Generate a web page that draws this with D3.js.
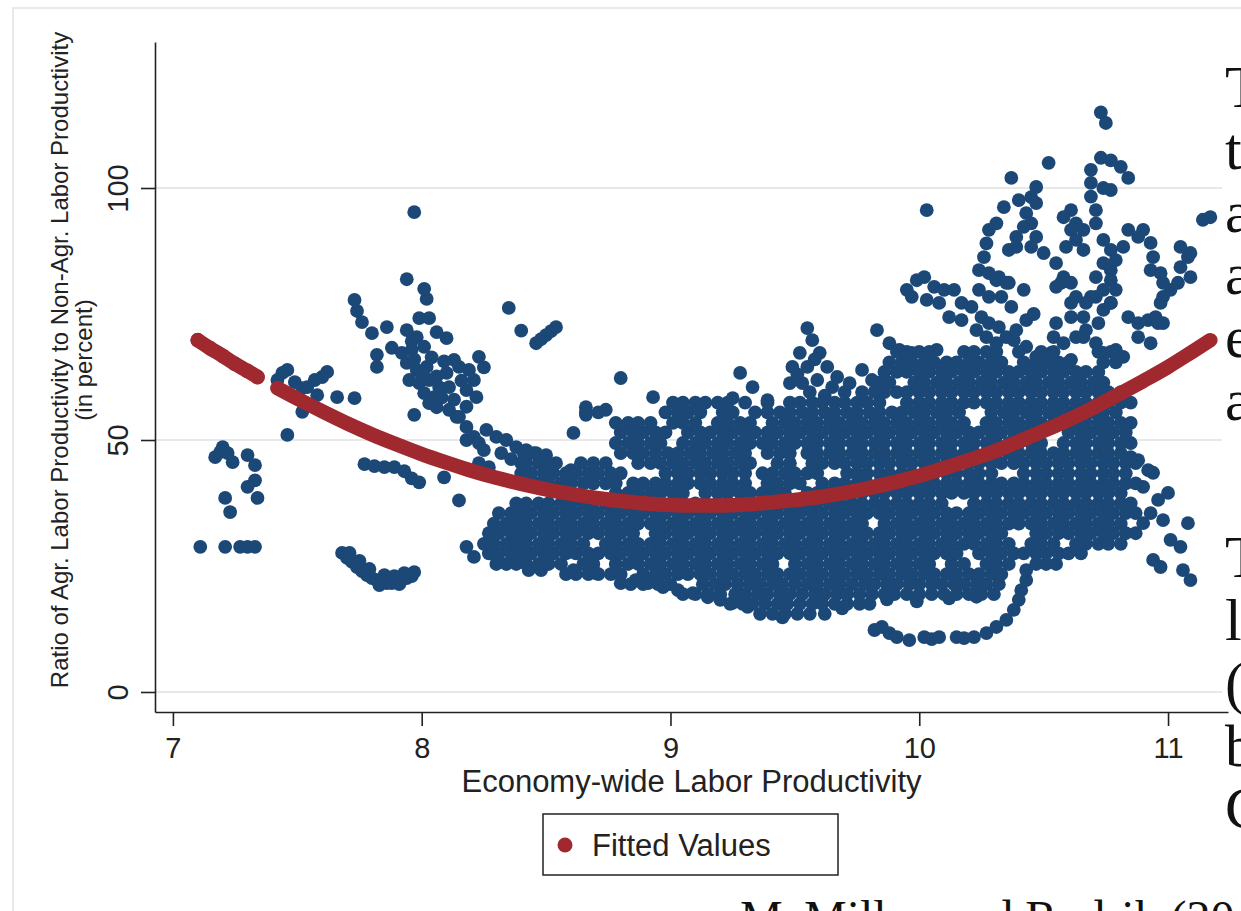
<!DOCTYPE html>
<html>
<head>
<meta charset="utf-8">
<script src="https://cdn.jsdelivr.net/npm/d3@7"></script>
<style>
  html, body { margin: 0; padding: 0; background: #fff; overflow: hidden; }
  svg { display: block; }
</style>
</head>
<body>
<svg id="chart" width="1241" height="911"></svg>
<script>
// ---- Axis labels and ticks ----
const xTicks = [7, 8, 9, 10, 11];
const yTicks = [0, 50, 100];
const xTitle = "Economy-wide Labor Productivity";
const yTitleLines = ["Ratio of Agr. Labor Productivity to Non-Agr. Labor Productivity", "(in percent)"];
const legendLabel = "Fitted Values";
const sideLetters = ["T", "t", "a", "a", "e", "a", "T", "l", "(", "b", "C"];
const sourceNote = "McMillan and Rodrik (20";

// ---- Observations: [labor productivity, ratio] ----
const earlyCluster = [
  [7.11,28.8],[7.21,28.8],[7.27,28.8],[7.30,28.8],[7.33,28.8],
  [7.17,46.6],[7.20,48.6],[7.22,47.4],[7.24,45.6],[7.19,47.6],
  [7.30,47.0],[7.33,45.0],[7.33,42.0],[7.30,40.7],[7.34,38.5],
  [7.21,38.5],[7.23,35.7]
];
const nearFitStart = [
  [7.44,63.3],[7.46,63.9],[7.42,61.9],[7.49,61.5],[7.52,60.3],[7.54,60.5],[7.57,61.9],
  [7.60,62.5],[7.62,63.5],[7.58,58.9],[7.52,55.6],[7.66,58.5],[7.73,58.3],[7.46,51.0]
];
const lowDip = [
  [7.68,27.6],[7.70,26.6],[7.72,25.8],[7.74,24.8],[7.76,24.0],[7.78,23.2],[7.80,22.6],[7.82,22.2],
  [7.84,21.8],[7.86,21.6],[7.88,21.6],[7.90,21.8],[7.92,22.2],[7.94,22.6],[7.96,23.0],[7.97,23.8],
  [7.93,23.6],[7.89,23.0],[7.85,23.2],[7.79,24.4],[7.75,26.0],[7.71,27.6],[7.83,21.2],[7.91,21.4]
];
const belowFitLeft = [
  [7.77,45.2],[7.81,44.8],[7.85,44.6],[7.89,44.6],[7.93,43.8],[7.96,42.4],[7.99,41.6],
  [8.09,42.6],[8.15,38.0],[8.18,28.8],[8.21,26.8]
];
const clusterNear8 = [
  [7.97,95.2],[7.94,81.9],[8.01,80.0],[8.02,78.0],
  [7.73,77.8],[7.74,75.6],[7.76,73.4],[7.80,71.2],[7.86,72.4],[7.82,66.9],[7.82,64.5],
  [7.94,71.8],[7.99,74.2],[8.03,74.2],[8.06,71.4],[8.10,70.2],[7.98,70.4],
  [7.88,68.3],[7.92,67.3],[7.96,67.9],[8.01,68.5],[7.94,65.3],[7.98,63.9],[8.02,64.5],
  [7.95,61.9],[7.99,61.3],[8.03,61.9],[8.01,59.3],[8.05,58.5],[8.07,60.5],[8.10,63.3],
  [8.13,65.9],[8.15,64.5],[8.19,63.9],[8.23,66.5],[8.21,61.9],[8.18,59.9],[8.22,58.5],
  [8.11,60.5],[8.06,56.5],[8.03,57.3],[8.11,56.0],[8.15,54.6],[7.97,55.0],
  [7.96,69.6],[8.04,66.4],[7.97,66.0],[8.00,63.0],[8.06,62.6],[8.08,58.4],[8.13,58.0],
  [8.16,61.8],[8.09,65.6],[8.25,64.4],[8.18,56.6],
  [8.14,54.6],[8.18,52.6],[8.21,50.6],[8.23,49.4],[8.26,52.0],[8.30,50.6],[8.34,50.0],
  [8.38,48.6],[8.42,48.0],[8.46,47.4],[8.50,47.0],[8.54,45.4],[8.60,44.0],[8.18,50.0],
  [8.25,48.0],[8.23,45.4],[8.27,44.6],[8.32,47.4],[8.36,46.2],[8.40,45.4]
];
const midUpper = [
  [8.35,76.2],[8.40,71.7],[8.46,69.2],[8.48,70.0],[8.50,70.8],[8.52,71.6],[8.54,72.4],
  [8.80,62.3],[8.93,58.5],[8.66,56.5],[8.66,55.0],[8.74,56.0],[8.61,51.4],
  [9.28,63.3],[9.33,60.5],[9.39,57.9],[9.25,58.3]
];
const cluster95 = [
  [9.55,72.2],[9.57,69.8],[9.52,67.3],[9.60,67.3],[9.49,64.5],[9.55,64.5],[9.63,64.5],[9.67,62.5],
  [9.48,61.3],[9.53,61.3],[9.59,61.9],[9.72,61.3],[9.77,63.9],[9.81,61.9],[9.51,63.0],[9.58,66.0],
  [9.65,60.5],[9.70,59.5],[9.62,58.8],[9.56,59.5]
];
const upperRight = [
  [10.73,115.0],[10.75,112.9],
  [10.73,106.0],[10.77,105.5],[10.81,104.2],[10.84,102.0],
  [10.69,103.6],[10.69,101.0],[10.69,98.3],[10.71,95.6],[10.71,93.0],[10.74,100.0],[10.77,99.6],
  [10.52,105.0],[10.37,102.0],[10.03,95.6],
  [10.47,100.2],[10.45,98.2],[10.40,97.6],[10.43,95.0],[10.42,92.3],[10.39,90.3],[10.34,96.2],
  [10.31,93.0],[10.28,91.7],[10.27,89.0],[10.26,86.3],[10.47,97.0],
  [10.45,93.0],[10.47,90.3],[10.50,87.1],[10.45,88.3],[10.36,87.7],[10.39,88.3],
  [10.61,95.6],[10.63,93.0],[10.66,91.7],[10.61,91.7],[10.58,94.2],[10.63,89.7],[10.66,87.7],
  [10.59,88.3],[10.55,85.1],[10.58,82.3],[10.61,81.2],[10.55,80.4],
  [10.74,89.7],[10.77,87.7],[10.74,85.1],[10.77,83.7],[10.79,85.7],[10.71,82.3],[10.77,81.7],
  [10.74,79.8],[10.79,79.8],[10.71,78.4],[10.77,77.2],[10.69,78.4],[10.82,88.3],[10.84,91.7],
  [10.88,90.3],[10.90,91.7],
  [10.93,89.1],[10.94,86.3],[10.93,83.7],[10.97,83.1],[10.98,81.2],[11.01,79.8],[10.98,78.4],
  [11.05,84.3],[11.08,86.3],[11.09,82.3],[11.04,81.2],[10.97,77.2],[10.95,74.4],[10.98,73.2],
  [11.14,93.7],[11.17,94.2],[11.05,88.3],[11.09,87.1],
  [9.95,79.8],[9.99,81.7],[10.02,82.3],[10.06,80.4],[9.97,78.4],[10.03,77.8],[10.08,77.2],[10.10,79.8],
  [10.14,79.8],[10.17,77.2],[10.21,76.4],[10.25,74.4],[10.28,73.2],[10.32,72.4],[10.12,74.4],
  [10.17,73.8],[10.23,71.8],[10.27,70.4],[10.31,69.2],[10.35,70.4],[10.39,71.8],[10.43,73.8],
  [10.46,75.0],[10.37,76.4],[10.33,78.4],[10.28,78.4],[10.24,79.8],[10.31,81.7],[10.36,81.2],
  [10.42,79.8],[10.24,83.7],[10.28,83.1],[10.32,82.3],[10.35,81.2],
  [10.57,81.2],[10.61,77.2],[10.63,78.4],[10.67,77.2],[10.66,74.4],[10.61,74.4],[10.55,73.2],
  [10.54,70.4],[10.58,69.2],[10.63,70.4],[10.67,71.8],[10.72,73.2],[10.74,75.8],[10.77,77.2],
  [10.84,74.4],[10.88,73.2],[10.92,73.8],[10.96,73.2],[10.88,70.4],[10.93,69.2],
  [9.83,71.8],[9.88,69.2],[9.92,67.9],[9.97,67.3],[10.03,66.5],[10.07,67.9],
  [10.38,69.8],[10.43,68.5],[10.47,66.5],[10.53,67.3],[10.55,65.3],[10.61,65.9],
  [10.66,70.4],[10.71,69.2],[10.74,67.3],[10.79,67.9],[10.82,66.5]
];
const rightTail = [
  [10.90,40.7],[10.94,43.5],[10.96,38.1],[11.00,39.5],[10.98,34.1],[10.90,33.5],[10.93,35.5],
  [11.08,33.5],[11.01,30.2],[11.05,28.8],[10.94,26.2],[10.97,24.8],[11.06,24.2],[11.09,22.2],
  [10.85,46.6],[10.88,46.0],[10.92,44.0]
];
const bottomLoop = [
  [9.82,12.3],[9.85,12.9],[9.88,11.7],[9.91,10.9],[9.96,10.3],[10.02,10.9],[10.05,10.5],[10.08,10.9],
  [10.15,10.9],[10.18,10.7],[10.22,10.9],[10.27,11.7],[10.31,12.9],[10.35,14.3],[10.38,16.3],
  [10.40,18.3],[10.41,20.2],[10.43,22.2],[10.43,24.2]
];
const bottomChain = [
  [8.61,24.2],[8.70,23.6],[8.80,21.6],[8.86,22.2],[8.91,21.6],[8.97,20.8],[9.03,20.2],[9.09,19.6],
  [9.15,18.8],[9.20,18.3],[9.25,17.7],[9.31,16.9],
  [9.87,18.4],[9.99,18.0],[10.12,18.6],[10.23,18.9],[9.69,16.6],[9.45,14.8]
];
// Dense body of the cloud, one row per ratio level: [ratio, [productivity values]]
const denseRows = [
  [15.5, [9.36,9.41,9.46,9.51,9.56,9.62]],
  [17.5, [9.24,9.29,9.33,9.38,9.43,9.47,9.52,9.57,9.61,9.66,9.71,9.76,9.80]],
  [19.4, [9.05,9.10,9.15,9.20,9.26,9.30,9.35,9.39,9.44,9.48,9.53,9.58,9.62,9.67,9.71,9.76,9.81,9.86,9.90,9.95,10.00,10.05,10.10,10.15,10.20,10.25,10.30]],
  [21.4, [8.84,8.89,8.95,9.00,9.13,9.18,9.22,9.27,9.32,9.36,9.41,9.45,9.50,9.55,9.59,9.64,9.68,9.73,9.78,9.82,9.87,9.91,9.96,10.00,10.05,10.09,10.14,10.18,10.23,10.27,10.32]],
  [23.4, [8.58,8.62,8.67,8.71,8.76,8.80,8.89,8.94,8.98,9.03,9.07,9.12,9.16,9.21,9.25,9.30,9.34,9.39,9.43,9.48,9.52,9.57,9.61,9.66,9.70,9.75,9.79,9.84,9.88,9.93,9.97,10.02,10.06,10.11,10.15,10.20,10.24,10.29,10.33]],
  [24.2, [8.43,8.48]],
  [25.4, [8.30,8.34,8.38,8.42,8.47,8.51,8.56,8.65,8.69,8.78,8.83,8.87,8.92,8.96,9.01,9.05,9.10,9.14,9.19,9.23,9.28,9.32,9.37,9.41,9.50,9.55,9.59,9.64,9.68,9.73,9.77,9.82,9.86,9.91,9.95,10.00,10.04,10.13,10.18,10.27,10.31,10.36,10.47,10.51,10.55]],
  [27.5, [8.27,8.31,8.36,8.40,8.44,8.49,8.53,8.58,8.62,8.67,8.71,8.76,8.80,8.85,8.89,8.94,8.98,9.03,9.07,9.12,9.16,9.21,9.25,9.30,9.34,9.39,9.43,9.48,9.52,9.57,9.61,9.66,9.70,9.75,9.79,9.84,9.88,9.93,9.97,10.02,10.06,10.11,10.15,10.24,10.29,10.33,10.38,10.42,10.47,10.51,10.56,10.60,10.65]],
  [29.4, [8.25,8.29,8.34,8.38,8.42,8.47,8.51,8.56,8.60,8.65,8.74,8.78,8.83,8.87,8.92,8.96,9.01,9.05,9.10,9.14,9.19,9.23,9.28,9.32,9.37,9.41,9.46,9.50,9.55,9.59,9.64,9.68,9.73,9.77,9.82,9.86,9.91,9.95,10.00,10.04,10.09,10.13,10.18,10.22,10.27,10.31,10.36,10.45,10.49,10.54,10.63,10.67,10.72,10.76,10.81]],
  [31.5, [8.27,8.31,8.36,8.40,8.44,8.49,8.53,8.58,8.62,8.67,8.71,8.76,8.80,8.85,8.94,8.98,9.03,9.07,9.12,9.16,9.21,9.25,9.30,9.34,9.39,9.43,9.48,9.52,9.57,9.61,9.66,9.70,9.75,9.79,9.84,9.88,9.93,9.97,10.02,10.06,10.11,10.15,10.20,10.24,10.29,10.33,10.47,10.51,10.56,10.60,10.65,10.69,10.74,10.78,10.83,10.87]],
  [33.4, [8.29,8.34,8.38,8.42,8.47,8.51,8.56,8.60,8.65,8.69,8.74,8.78,8.83,8.87,8.92,8.96,9.01,9.05,9.10,9.14,9.19,9.23,9.28,9.32,9.37,9.41,9.46,9.50,9.55,9.59,9.64,9.68,9.73,9.77,9.86,9.91,9.95,10.00,10.04,10.09,10.13,10.18,10.22,10.27,10.31,10.36,10.40,10.45,10.49,10.54,10.58,10.63,10.67,10.72,10.76,10.81]],
  [35.5, [8.31,8.36,8.40,8.44,8.49,8.53,8.58,8.62,8.67,8.71,8.76,8.80,8.85,8.89,8.94,8.98,9.03,9.07,9.12,9.16,9.21,9.25,9.30,9.34,9.39,9.43,9.48,9.52,9.57,9.61,9.66,9.70,9.75,9.79,9.84,9.88,9.93,9.97,10.02,10.06,10.11,10.15,10.20,10.24,10.29,10.33,10.38,10.42,10.47,10.51,10.56,10.60,10.65,10.69,10.74,10.78,10.83,10.87]],
  [37.4, [8.38,8.42,8.47,8.51,8.56,8.60,8.65,8.69,8.74,8.78,8.83,8.87,8.92,8.96,9.01,9.05,9.10,9.14,9.19,9.23,9.28,9.32,9.37,9.41,9.46,9.50,9.55,9.59,9.64,9.68,9.73,9.77,9.82,9.86,9.91,9.95,10.00,10.04,10.09,10.22,10.27,10.31,10.36,10.40,10.45,10.49,10.54,10.58,10.63,10.67,10.72,10.76,10.81,10.85]],
  [39.5, [8.78,8.83,8.87,8.92,8.96,9.01,9.05,9.14,9.19,9.23,9.28,9.32,9.37,9.41,9.46,9.55,9.59,9.64,9.68,9.73,9.77,9.82,9.86,9.91,9.95,10.00,10.04,10.09,10.13,10.18,10.22,10.27,10.31,10.36,10.40,10.45,10.49,10.54,10.58,10.63,10.67,10.72,10.76,10.81]],
  [41.4, [8.42,8.47,8.51,8.56,8.60,8.65,8.69,8.74,8.78,8.85,8.89,8.94,8.98,9.03,9.07,9.12,9.16,9.21,9.25,9.30,9.39,9.43,9.48,9.52,9.61,9.66,9.70,9.75,9.79,9.84,9.88,9.93,9.97,10.02,10.06,10.11,10.15,10.20,10.24,10.29,10.33,10.38,10.42,10.47,10.51,10.56,10.60,10.65,10.69,10.74,10.78,10.83,10.87]],
  [43.4, [8.40,8.44,8.49,8.53,8.58,8.62,8.67,8.71,8.76,8.80,8.98,9.03,9.07,9.12,9.16,9.21,9.25,9.30,9.37,9.41,9.46,9.50,9.55,9.59,9.71,9.75,9.79,9.84,9.88,9.93,9.97,10.02,10.06,10.11,10.15,10.20,10.24,10.29,10.42,10.47,10.51,10.56,10.60,10.65,10.69,10.74,10.78,10.83]],
  [45.4, [8.42,8.47,8.51,8.64,8.69,8.74,8.87,8.92,8.96,9.01,9.05,9.10,9.14,9.19,9.23,9.28,9.32,9.43,9.48,9.57,9.61,9.66,9.70,9.75,9.79,9.84,9.88,9.93,9.97,10.02,10.06,10.11,10.15,10.20,10.24,10.29,10.33,10.38,10.42,10.47,10.51,10.56,10.60,10.65,10.69,10.74,10.78,10.83,10.87]],
  [47.4, [8.41,8.45,8.80,8.85,8.89,8.94,8.99,9.03,9.08,9.12,9.17,9.21,9.26,9.30,9.39,9.44,9.48,9.55,9.59,9.64,9.68,9.73,9.77,9.82,9.86,9.91,9.95,10.00,10.04,10.09,10.13,10.18,10.22,10.27,10.31,10.36,10.40,10.45,10.49,10.54,10.58,10.63,10.67,10.72,10.76,10.81]],
  [49.4, [8.78,8.83,8.87,8.92,8.96,9.05,9.10,9.14,9.19,9.23,9.28,9.32,9.37,9.41,9.46,9.50,9.55,9.59,9.64,9.68,9.73,9.77,9.82,9.86,9.91,9.95,10.00,10.04,10.09,10.13,10.18,10.22,10.27,10.31,10.36,10.40,10.45,10.49,10.58,10.63,10.67,10.72,10.76,10.81,10.85]],
  [51.5, [8.80,8.85,8.89,8.94,8.98,9.07,9.12,9.16,9.21,9.25,9.30,9.34,9.39,9.43,9.48,9.52,9.57,9.61,9.66,9.70,9.75,9.79,9.84,9.88,9.93,9.97,10.02,10.06,10.11,10.15,10.20,10.24,10.29,10.33,10.38,10.42,10.47,10.60,10.65,10.69,10.74,10.78,10.83]],
  [53.4, [8.78,8.83,8.87,8.92,9.01,9.05,9.10,9.19,9.23,9.28,9.32,9.41,9.46,9.50,9.55,9.59,9.64,9.68,9.73,9.77,9.82,9.86,9.91,9.95,10.00,10.04,10.09,10.13,10.18,10.27,10.31,10.36,10.40,10.45,10.49,10.54,10.63,10.67,10.72,10.76,10.81,10.85]],
  [55.5, [8.66,8.71,8.98,9.03,9.07,9.12,9.21,9.25,9.34,9.39,9.44,9.48,9.53,9.57,9.62,9.66,9.71,9.75,9.80,9.84,9.89,9.93,9.98,10.02,10.07,10.11,10.16,10.29,10.34,10.38,10.43,10.47,10.52,10.56,10.61,10.65,10.70,10.74,10.79]],
  [57.4, [9.01,9.05,9.10,9.14,9.19,9.23,9.30,9.39,9.48,9.52,9.57,9.61,9.66,9.70,9.75,9.79,9.84,9.95,10.00,10.04,10.09,10.13,10.18,10.22,10.27,10.31,10.36,10.40,10.45,10.49,10.54,10.58,10.63,10.67,10.72,10.76,10.81,10.85]],
  [59.5, [9.77,9.82,9.86,9.91,9.95,10.00,10.04,10.09,10.13,10.18,10.22,10.27,10.31,10.36,10.40,10.45,10.49,10.54,10.58,10.63,10.67,10.72,10.76,10.81]],
  [61.4, [9.84,9.88,9.98,10.02,10.07,10.11,10.16,10.20,10.25,10.29,10.34,10.38,10.43,10.47,10.52,10.56,10.61,10.65,10.70,10.74]],
  [63.5, [9.86,9.91,9.95,10.00,10.04,10.09,10.13,10.18,10.22,10.27,10.31,10.36,10.40,10.45,10.49,10.54,10.58,10.63,10.67,10.72]],
  [65.4, [9.88,9.93,9.97,10.02,10.06,10.11,10.15,10.20,10.24,10.29,10.33,10.42,10.47,10.51,10.56,10.60,10.74,10.79]],
  [67.5, [9.91,9.95,10.00,10.04,10.18,10.22,10.27,10.31,10.40,10.49,10.54,10.72,10.77]]
];

// ---- Fitted values (quadratic fit), two runs with a gap in the data ----
const fittedLow = [[7.10,69.8],[7.15,68.2],[7.20,66.7],[7.25,65.1],[7.30,63.7],[7.34,62.5]];
const fittedMain = [
  [7.42,60.3],[7.50,58.2],[7.60,55.7],[7.70,53.3],[7.80,51.1],[7.90,49.1],[8.00,47.2],[8.10,45.5],
  [8.20,43.9],[8.30,42.5],[8.40,41.3],[8.50,40.2],[8.60,39.3],[8.70,38.5],[8.80,37.9],[8.90,37.4],
  [9.00,37.1],[9.10,37.0],[9.20,37.0],[9.30,37.2],[9.40,37.6],[9.50,38.1],[9.60,38.7],[9.70,39.5],
  [9.80,40.5],[9.90,41.6],[10.00,42.9],[10.10,44.4],[10.20,46.0],[10.30,47.7],[10.40,49.7],
  [10.50,51.8],[10.60,54.0],[10.70,56.4],[10.80,59.0],[10.90,61.7],[11.00,64.5],[11.10,67.6],[11.17,69.8]
];

// ---- Drawing ----
const SANS = "'Liberation Sans', Arial, Helvetica, sans-serif";
const SERIF = "'Liberation Serif', 'Times New Roman', Times, serif";
const BLUE = "#1b4876";
const RED = "#a0292f";
const INK = "#222";
const DOT_R = 6.9;

const svg = d3.select("#chart");
const x = d3.scaleLinear().domain([6.928, 11.241]).range([155, 1228]);
const y = d3.scaleLinear().domain([-3.97, 128.97]).range([712, 42]);

// outer graph region frame
svg.append("rect")
  .attr("x", 13).attr("y", 8).attr("width", 1400).attr("height", 1000)
  .attr("fill", "none").attr("stroke", "#e9e9e9").attr("stroke-width", 2);

// horizontal grid lines
svg.append("g").selectAll("line").data(yTicks).join("line")
  .attr("x1", x.range()[0] + 1).attr("x2", x.range()[1] - 6)
  .attr("y1", d => y(d)).attr("y2", d => y(d))
  .attr("stroke", "#e8e8e8").attr("stroke-width", 2);

// scatter points
const scatter = [].concat(
  earlyCluster, nearFitStart, lowDip, belowFitLeft, clusterNear8, midUpper,
  cluster95, upperRight, rightTail, bottomLoop, bottomChain,
  denseRows.flatMap(([ratio, xs]) => xs.map(v => [v, ratio]))
);
svg.append("g").selectAll("circle").data(scatter).join("circle")
  .attr("cx", d => x(d[0])).attr("cy", d => y(d[1])).attr("r", DOT_R)
  .attr("fill", BLUE);

// fitted values
const fitLine = d3.line().x(d => x(d[0])).y(d => y(d[1])).curve(d3.curveMonotoneX);
const gFit = svg.append("g");
[fittedLow, fittedMain].forEach(run => {
  gFit.append("path").attr("d", fitLine(run))
    .attr("fill", "none").attr("stroke", RED).attr("stroke-width", 14.5)
    .attr("stroke-linecap", "round").attr("stroke-linejoin", "round");
});
gFit.selectAll("circle").data(fittedLow).join("circle")
  .attr("cx", d => x(d[0])).attr("cy", d => y(d[1])).attr("r", 7.4).attr("fill", RED);

// y axis
const gy = svg.append("g").attr("transform", "translate(155,0)")
  .call(d3.axisLeft(y).tickValues(yTicks).tickSize(14).tickSizeOuter(0).tickFormat(d3.format("d")));
gy.select(".domain").attr("stroke", INK).attr("stroke-width", 1.6);
gy.selectAll(".tick line").attr("stroke", INK).attr("stroke-width", 1.6);
gy.selectAll(".tick text")
  .attr("x", null).attr("dy", null)
  .attr("transform", "translate(-27,0) rotate(-90)")
  .attr("text-anchor", "middle")
  .attr("font-family", SANS).attr("font-size", 29).attr("fill", INK);

// x axis
const gx = svg.append("g").attr("transform", "translate(0,712)")
  .call(d3.axisBottom(x).tickValues(xTicks).tickSize(14).tickSizeOuter(0).tickFormat(d3.format("d")));
gx.select(".domain").attr("stroke", INK).attr("stroke-width", 1.6);
gx.selectAll(".tick line").attr("stroke", INK).attr("stroke-width", 1.6);
gx.selectAll(".tick text")
  .attr("y", 46).attr("dy", null)
  .attr("font-family", SANS).attr("font-size", 29).attr("fill", INK);

// axis titles
svg.append("text")
  .attr("x", (x.range()[0] + x.range()[1]) / 2).attr("y", 792)
  .attr("text-anchor", "middle")
  .attr("font-family", SANS).attr("font-size", 31).attr("fill", INK)
  .text(xTitle);

yTitleLines.forEach((line, i) => {
  svg.append("text")
    .attr("transform", `translate(${68 + i * 24},360) rotate(-90)`)
    .attr("text-anchor", "middle")
    .attr("font-family", SANS).attr("font-size", 24).attr("fill", INK)
    .text(line);
});

// legend
const lg = svg.append("g");
lg.append("rect").attr("x", 543).attr("y", 814).attr("width", 295).attr("height", 61)
  .attr("fill", "#fff").attr("stroke", INK).attr("stroke-width", 1.5);
lg.append("circle").attr("cx", 565).attr("cy", 845).attr("r", 7.5).attr("fill", RED);
lg.append("text").attr("x", 592).attr("y", 856)
  .attr("font-family", SANS).attr("font-size", 31).attr("fill", INK)
  .text(legendLabel);

// side text column (runs past the right edge of the page)
const sideBaselines = [107, 169, 232, 294, 357, 420, 577, 640, 703, 766, 828];
svg.append("g").selectAll("text").data(sideLetters).join("text")
  .attr("x", 1225).attr("y", (d, i) => sideBaselines[i])
  .attr("font-family", SERIF).attr("font-size", 60).attr("fill", "#111")
  .text(d => d);

// source line at the bottom
svg.append("text").attr("x", 740).attr("y", 934)
  .attr("font-family", SERIF).attr("font-size", 48).attr("fill", "#111")
  .text(sourceNote);
</script>
</body>
</html>
